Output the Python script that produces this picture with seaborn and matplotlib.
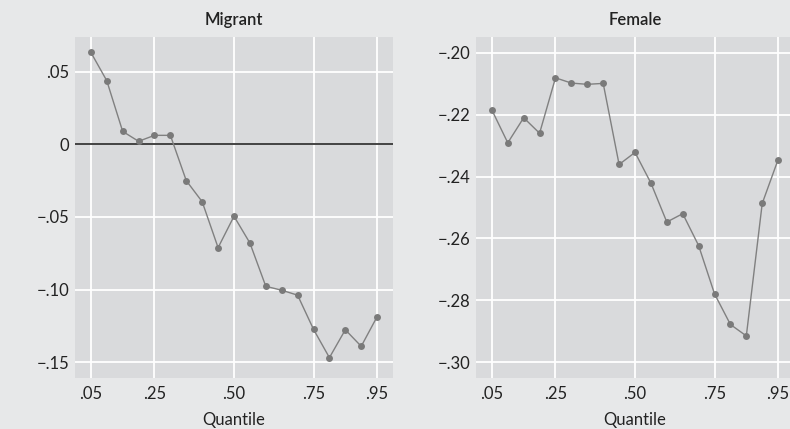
import numpy as np
import pandas as pd
import matplotlib
matplotlib.use("Agg")
import matplotlib.pyplot as plt
import seaborn as sns

# data
quantiles = [0.05, 0.10, 0.15, 0.20, 0.25, 0.30, 0.35, 0.40, 0.45, 0.50,
             0.55, 0.60, 0.65, 0.70, 0.75, 0.80, 0.85, 0.90, 0.95]
migrant = [0.0633, 0.0438, 0.0089, 0.0021, 0.0062, 0.0062, -0.0250, -0.0395,
           -0.0711, -0.0495, -0.0679, -0.0977, -0.1004, -0.1038, -0.1273,
           -0.1468, -0.1276, -0.1390, -0.1186]
female = [-0.2185, -0.2291, -0.2210, -0.2260, -0.2081, -0.2098, -0.2102,
          -0.2099, -0.2361, -0.2322, -0.2421, -0.2547, -0.2520, -0.2623,
          -0.2779, -0.2878, -0.2915, -0.2487, -0.2345]
xticks = [0.05, 0.25, 0.50, 0.75, 0.95]
xtick_labels = [".05", ".25", ".50", ".75", ".95"]
mig_yticks = [0.05, 0, -0.05, -0.10, -0.15]
mig_ylabels = [".05", "0", "\u2212.05", "\u2212.10", "\u2212.15"]
fem_yticks = [-0.20, -0.22, -0.24, -0.26, -0.28, -0.30]
fem_ylabels = ["\u2212.20", "\u2212.22", "\u2212.24", "\u2212.26", "\u2212.28", "\u2212.30"]

df = pd.DataFrame({"Quantile": quantiles, "Migrant": migrant, "Female": female})

sns.set_theme(style="darkgrid", rc={
    "axes.facecolor": "#d9dadc",
    "figure.facecolor": "#e7e8e9",
    "grid.color": "white",
    "grid.linewidth": 1.3,
})
plt.rcParams["font.family"] = ["Lato", "DejaVu Sans"]

fig = plt.figure(figsize=(7.9, 4.29), dpi=100)
ax1 = fig.add_axes([0.0949, 0.1196, 0.4026, 0.7942])
ax2 = fig.add_axes([0.6025, 0.1196, 0.4026, 0.7942])

panels = [
    (ax1, "Migrant", (-0.1606, 0.0739), mig_yticks, mig_ylabels),
    (ax2, "Female", (-0.305, -0.1949), fem_yticks, fem_ylabels),
]

for ax, col, ylim, yt, yl in panels:
    sns.lineplot(data=df, x="Quantile", y=col, ax=ax, color="#808080",
                 linewidth=1.0, marker="o", markersize=5,
                 markeredgewidth=0, markerfacecolor="#7a7a7a")
    ax.set_xlim(0.0, 1.0)
    ax.set_ylim(*ylim)
    ax.set_xticks(xticks)
    ax.set_xticklabels(xtick_labels)
    ax.set_yticks(yt)
    ax.set_yticklabels(yl)
    ax.tick_params(axis="x", labelsize=12, colors="#222222", length=0, pad=6)
    ax.tick_params(axis="y", labelsize=12, colors="#222222", length=0, pad=4)
    ax.set_title(col, fontsize=12, fontweight="semibold", color="#222222", pad=8.5)
    ax.set_xlabel("Quantile", fontsize=12, color="#222222", labelpad=7)
    ax.set_ylabel("")
    for s in ax.spines.values():
        s.set_visible(False)

ax1.axhline(0, color="#111111", linewidth=1.1, zorder=1.5)

fig.savefig("out.png", dpi=100)
